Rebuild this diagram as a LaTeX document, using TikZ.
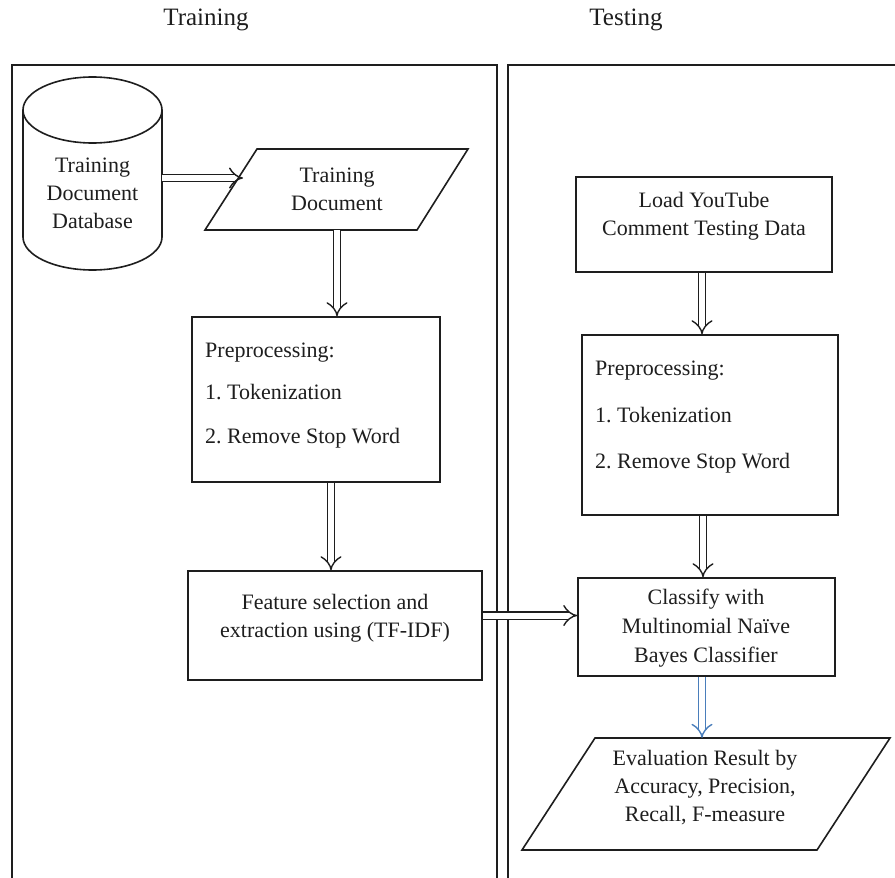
\documentclass[tikz,border=0pt]{standalone}
\usepackage{fontspec}
\setmainfont{Liberation Serif}
\usetikzlibrary{arrows.meta}
\definecolor{ink}{HTML}{1E1E1E}
\definecolor{arrblue}{HTML}{4A7EBB}
\frenchspacing
\begin{document}
\begin{tikzpicture}[x=1pt,y=-1pt,
  panel/.style={draw=ink, line width=1.6pt},
  box/.style={draw=ink, line width=1.6pt, rectangle, inner sep=0pt},
  shapeline/.style={draw=ink, line width=1.6pt, line join=miter},
  txt/.style={font=\fontsize{22}{28}\selectfont, align=center, inner sep=0pt, text=ink},
  ltxt/.style={font=\fontsize{22}{28}\selectfont, anchor=base west, inner sep=0pt, text=ink},
  ttl/.style={font=\fontsize{25}{30}\selectfont, inner sep=0pt, text=ink},
  dbl/.style={draw=ink, double=white, double distance=6pt, line width=1.4pt, -{Implies[scale=1.25]}},
  dblblue/.style={draw=arrblue, double=white, double distance=6pt, line width=1.4pt, -{Implies[scale=1.25]}}
]
\useasboundingbox (0,0) rectangle (895,878);
\fill[white] (0,0) rectangle (895,878);

% titles
\node[ttl] (ttrain) at (206,20) {Training};
\node[ttl] (ttest) at (626,20) {Testing};

% panels
\draw[panel] (12,878) -- (12,65) -- (497,65) -- (497,878);
\draw[panel] (508,878) -- (508,65) -- (895,65);

% cylinder
\draw[shapeline, fill=white] (23,110) -- (23,237) arc[start angle=180, end angle=360, x radius=69.5pt, y radius=33pt] -- (162,110);
\draw[shapeline] (92.5,110) ellipse [x radius=69.5pt, y radius=33pt];
\node[txt, minimum width=139pt] (db) at (92.5,193) {Training\\Document\\Database};

% training document parallelogram
\draw[shapeline, fill=white] (257,149) -- (468,149) -- (417,230) -- (205,230) -- cycle;
\node[txt, minimum height=81pt] (td) at (337,189.5) {Training\\Document};
\coordinate (tdL) at (243,178);

% preprocessing (training)
\node[box, minimum width=248pt, minimum height=165pt] (pre1) at (316,399.5) {};
\node[ltxt] (pre1a) at (205,357) {Preprocessing:};
\node[ltxt] (pre1b) at (205,399) {1. Tokenization};
\node[ltxt] (pre1c) at (205,443) {2. Remove Stop Word};

% feature selection
\node[box, minimum width=294pt, minimum height=109pt] (feat) at (335,625.5) {};
\node[txt] (featT) at (335,618) {Feature selection and\\extraction using (TF-IDF)};

% load testing data
\node[box, minimum width=256pt, minimum height=95pt] (load) at (704,224.5) {};
\node[txt] (loadT) at (704,216) {Load YouTube\\Comment Testing Data};

% preprocessing (testing)
\node[box, minimum width=256pt, minimum height=180pt] (pre2) at (710,425) {};
\node[ltxt] (pre2a) at (595,375) {Preprocessing:};
\node[ltxt] (pre2b) at (595,422) {1. Tokenization};
\node[ltxt] (pre2c) at (595,468) {2. Remove Stop Word};

% classify
\node[box, minimum width=257pt, minimum height=98pt] (cls) at (706.5,627) {};
\node[txt, font=\fontsize{22}{29}\selectfont] (clsT) at (706,628) {Classify with\\Multinomial Naïve\\Bayes Classifier};

% evaluation parallelogram
\draw[shapeline, fill=white] (595,738) -- (890,738) -- (817,850) -- (522,850) -- cycle;
\node[txt, minimum height=112pt] (ev) at (706,794) {};
\node[txt] (evT) at (705,788) {Evaluation Result by\\Accuracy, Precision,\\Recall, F-measure};

% connectors
\draw[dbl] ([yshift=15pt]db.east) -- (tdL);
\draw[dbl] (td.south) -- (td.south |- pre1.north);
\draw[dbl] ([xshift=15pt]pre1.south) -- ([xshift=15pt]pre1.south |- feat.north);
\draw[dbl] ([yshift=10pt]feat.east) -- ([yshift=10pt]feat.east -| cls.west);
\draw[dbl] ([xshift=-2pt]load.south) -- ([xshift=-2pt]load.south |- pre2.north);
\draw[dbl] ([xshift=-7pt]pre2.south) -- ([xshift=-7pt]pre2.south |- cls.north);
\draw[dblblue] ([xshift=-4.5pt]cls.south) -- ([xshift=-4.5pt]cls.south |- ev.north);
\end{tikzpicture}
\end{document}
